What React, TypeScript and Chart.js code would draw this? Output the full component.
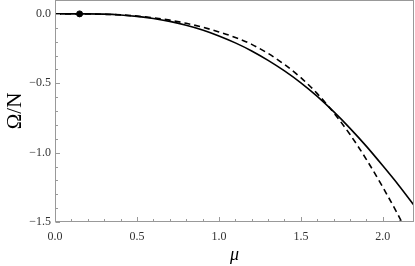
import React, { useEffect, useRef } from "react";
import { Chart, registerables } from "chart.js";

Chart.register(...registerables);

const muSolid = [0, 0.1, 0.15, 0.2, 0.3, 0.4, 0.5, 0.6, 0.7, 0.8, 0.9, 1.0, 1.1, 1.2, 1.3, 1.4, 1.5, 1.6, 1.7, 1.8, 1.9, 2.0, 2.1, 2.2];
const omegaSolid = [0, 0, 0, 0, -0.002, -0.008, -0.018, -0.033, -0.054, -0.082, -0.116, -0.159, -0.209, -0.267, -0.335, -0.411, -0.497, -0.595, -0.705, -0.825, -0.955, -1.095, -1.24, -1.395];

const muDashed = [0, 0.1, 0.2, 0.3, 0.4, 0.5, 0.6, 0.7, 0.8, 0.9, 1.0, 1.1, 1.2, 1.3, 1.4, 1.5, 1.6, 1.7, 1.8, 1.9, 2.0, 2.1, 2.2];
const omegaDashed = [0, -0.0005, -0.001, -0.003, -0.007, -0.016, -0.028, -0.045, -0.068, -0.096, -0.13, -0.17, -0.22, -0.285, -0.365, -0.46, -0.575, -0.712, -0.87, -1.05, -1.25, -1.465, -1.70];

const markerMu = [0.15];
const markerOmega = [0];

const xTickLabels = [0, 0.5, 1.0, 1.5, 2.0];
const yTickLabels = [-1.5, -1.0, -0.5, 0.0];
const xMinorTicks = [0.1, 0.2, 0.3, 0.4, 0.6, 0.7, 0.8, 0.9, 1.1, 1.2, 1.3, 1.4, 1.6, 1.7, 1.8, 1.9, 2.1];
const yMinorTicks = [-1.4, -1.3, -1.2, -1.1, -0.9, -0.8, -0.7, -0.6, -0.4, -0.3, -0.2, -0.1];

const FRAME = "#999999";
const SERIF = "'Liberation Serif', 'Times New Roman', serif";

const fmt = (v: number) => v.toFixed(1).replace("-", "\u2212");

const framePlugin = {
  id: "frameTicks",
  afterDatasetsDraw(chart: any) {
    const { ctx, chartArea } = chart;
    const xs = chart.scales.x;
    const ys = chart.scales.y;
    ctx.save();
    ctx.strokeStyle = FRAME;
    ctx.lineWidth = 1;
    const l = Math.round(chartArea.left) + 0.5;
    const r = Math.round(chartArea.right) - 0.5;
    const t = Math.round(chartArea.top) + 0.5;
    const b = Math.round(chartArea.bottom) - 0.5;
    ctx.strokeRect(l, t, r - l, b - t);
    ctx.beginPath();
    const vline = (v: number, len: number) => {
      const px = Math.round(xs.getPixelForValue(v)) + 0.5;
      ctx.moveTo(px, b);
      ctx.lineTo(px, b - len);
    };
    const hline = (v: number, len: number) => {
      const py = Math.round(ys.getPixelForValue(v)) + 0.5;
      ctx.moveTo(l, py);
      ctx.lineTo(l + len, py);
    };
    xTickLabels.forEach((v) => vline(v, 4.5));
    xMinorTicks.forEach((v) => vline(v, 2.5));
    yTickLabels.forEach((v) => hline(v, 4.5));
    yMinorTicks.forEach((v) => hline(v, 2.5));
    ctx.stroke();
    ctx.restore();
  },
};

export default function App() {
  const ref = useRef<HTMLCanvasElement | null>(null);
  useEffect(() => {
    if (!ref.current) return;
    const chart = new Chart(ref.current, {
      type: "scatter",
      data: {
        datasets: [
          {
            data: muSolid.map((m, i) => ({ x: m, y: omegaSolid[i] })),
            showLine: true,
            borderColor: "#000",
            borderWidth: 1.6,
            pointRadius: 0,
            cubicInterpolationMode: "monotone",
          },
          {
            data: muDashed.map((m, i) => ({ x: m, y: omegaDashed[i] })),
            showLine: true,
            borderColor: "#000",
            borderWidth: 1.6,
            borderDash: [6, 4],
            pointRadius: 0,
            cubicInterpolationMode: "monotone",
          },
          {
            data: markerMu.map((m, i) => ({ x: m, y: markerOmega[i] })),
            showLine: false,
            backgroundColor: "#000",
            borderColor: "#000",
            pointRadius: 3,
          },
        ],
      },
      options: {
        animation: false,
        responsive: false,
        devicePixelRatio: 1,
        layout: { autoPadding: false, padding: { top: 0, right: 1, left: 0, bottom: 0 } },
        plugins: { legend: { display: false }, tooltip: { enabled: false } },
        scales: {
          x: {
            type: "linear",
            min: 0,
            max: 2.19,
            grid: { display: false, drawTicks: false },
            border: { display: false },
            afterBuildTicks: (s: any) => {
              s.ticks = xTickLabels.map((v) => ({ value: v }));
            },
            afterFit: (s: any) => {
              s.height = 44;
              s.paddingLeft = 0;
              s.paddingRight = 0;
            },
            ticks: {
              autoSkip: false,
              maxRotation: 0,
              padding: 8,
              color: "#333",
              font: { family: SERIF, size: 12 },
              callback: (v: any) => fmt(Number(v)),
            },
            title: {
              display: true,
              text: "μ",
              color: "#000",
              padding: 0,
              font: { family: SERIF, size: 18, style: "italic" },
            },
          },
          y: {
            type: "linear",
            min: -1.5,
            max: 0.1,
            grid: { display: false, drawTicks: false },
            border: { display: false },
            afterBuildTicks: (s: any) => {
              s.ticks = yTickLabels.map((v) => ({ value: v }));
            },
            afterFit: (s: any) => {
              s.width = 55;
              s.paddingTop = 0;
              s.paddingBottom = 0;
            },
            ticks: {
              autoSkip: false,
              padding: 4,
              color: "#333",
              font: { family: SERIF, size: 12 },
              callback: (v: any) => fmt(Number(v)),
            },
            title: {
              display: true,
              text: "Ω/N",
              color: "#000",
              padding: { top: 3, bottom: 0 },
              font: { family: SERIF, size: 21 },
            },
          },
        },
      },
      plugins: [framePlugin],
    } as any);
    return () => chart.destroy();
  }, []);
  return (
    <div style={{ position: "absolute", left: 0, top: 0, width: 415, height: 266 }}>
      <canvas ref={ref} width={415} height={266} />
    </div>
  );
}
